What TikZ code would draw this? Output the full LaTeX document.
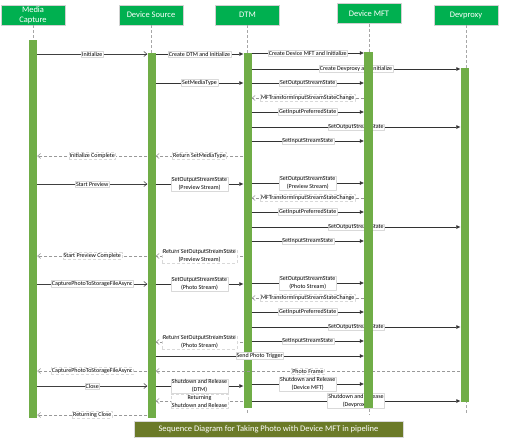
\documentclass[tikz,border=0pt]{standalone}
\usepackage{fontspec}
\setmainfont{Carlito}
\usetikzlibrary{arrows.meta}
\definecolor{hdrgreen}{RGB}{0,176,80}
\definecolor{bargreen}{RGB}{112,173,71}
\definecolor{captionolive}{RGB}{107,122,40}
\pgfdeclarelayer{front}
\pgfsetlayers{main,front}

\begin{document}
\begin{tikzpicture}[x=1pt, y=-1pt, line join=round,
    hdr/.style={fill=hdrgreen, draw=black!18, line width=0.8pt, text=white, minimum width=64pt, minimum height=20pt, inner sep=1pt, align=center, font=\fontsize{8.5}{9.5}\selectfont},
    actbar/.style={fill=bargreen, draw=none, minimum width=8pt, inner sep=0pt},
    life/.style={draw=black!35, dash pattern=on 3pt off 2pt, line width=0.5pt},
    lbl/.style={fill=white, draw=black!15, line width=0.3pt, inner sep=0.8pt, align=center, font=\fontsize{6}{8}\selectfont},
    msgo/.style={draw=black!75, line width=0.6pt, -{Straight Barb[length=3pt,width=5pt]}},
    msgf/.style={draw=black!80, line width=0.6pt, -{Triangle[length=4pt,width=3.5pt]}},
    ret/.style={draw=black!40, line width=0.6pt, dash pattern=on 3pt off 2pt, -{Straight Barb[length=3pt,width=5pt]}}]
  \useasboundingbox (0,0) rectangle (522,445);

  % lifeline heads
  \node[hdr] (mc) at (33,15) {Media\\Capture};
  \node[hdr] (ds) at (151,15) {Device Source};
  \node[hdr] (dtm) at (247.5,15) {DTM};
  \node[hdr] (mft) at (369,13.5) {Device MFT};
  \node[hdr] (dp) at (466,15) {Devproxy};
  \foreach \n in {mc,ds,dtm,mft,dp}
    \draw[life] (\n.south) -- (\n.south |- 0,414);

  % activation bars
  \node[actbar, minimum height=378pt] (mcb) at (33,229) {};
  \node[actbar, minimum height=365pt] (dsb) at (151.5,235.5) {};
  \node[actbar, minimum height=355pt] (dtmb) at (247.5,230.5) {};
  \begin{pgfonlayer}{front}
    \node[actbar, minimum width=9pt, minimum height=356pt] (mftb) at (368.5,230) {};
    \node[actbar, minimum height=334pt] (dpb) at (464.5,235) {};
  \end{pgfonlayer}

  % initialize
  \draw[msgo] (mcb.east |- 0,54) -- node[lbl] {Initialize} (dsb.west |- 0,54);
  \draw[msgf] (dsb.east |- 0,54) -- node[lbl] {Create DTM and Initialize} (dtmb.west |- 0,54);
  \draw[msgf] (dtmb.east |- 0,53) -- node[lbl] {Create Device MFT and Initialize} (mftb.west |- 0,53);
  \draw[msgf] (dtmb.east |- 0,69) -- node[lbl] {Create Devproxy and Initialize} (dpb.west |- 0,69);
  \draw[msgf] (dsb.east |- 0,83) -- node[lbl] {SetMediaType} (dtmb.west |- 0,83);
  \draw[msgf] (dtmb.east |- 0,83) -- node[lbl] {SetOutputStreamState} (mftb.west |- 0,83);

  % same four steps after each stream state change
  \foreach \b in {83,183,283}{
    \draw[ret] (mftb.west |- 0,\b+15) -- node[lbl] {MFTransformInputStreamStateChange} (dtmb.east |- 0,\b+15);
    \draw[msgf] (dtmb.east |- 0,\b+29) -- node[lbl] {GetInputPreferredState} (mftb.west |- 0,\b+29);
    \draw[msgf] (dtmb.east |- 0,\b+44) -- node[lbl] {SetOutputStreamState} (dpb.west |- 0,\b+44);
    \draw[msgf] (dtmb.east |- 0,\b+58) -- node[lbl] {SetInputStreamState} (mftb.west |- 0,\b+58);
  }
  \draw[ret] (dsb.west |- 0,156) -- node[lbl] {Initialize Complete} (mcb.east |- 0,156);
  \draw[ret] (dtmb.west |- 0,156) -- node[lbl] {Return SetMediaType} (dsb.east |- 0,156);

  % preview
  \draw[msgo] (mcb.east |- 0,184) -- node[lbl] {Start Preview} (dsb.west |- 0,184);
  \draw[msgf] (dsb.east |- 0,184) -- node[lbl] {SetOutputStreamState\\(Preview Stream)} (dtmb.west |- 0,184);
  \draw[msgf] (dtmb.east |- 0,183) -- node[lbl] {SetOutputStreamState\\(Preview Stream)} (mftb.west |- 0,183);
  \draw[ret] (dsb.west |- 0,256) -- node[lbl] {Start Preview Complete} (mcb.east |- 0,256);
  \draw[ret] (dtmb.west |- 0,256) -- node[lbl] {Return SetOutputStreamState\\(Preview Stream)} (dsb.east |- 0,256);

  % photo
  \draw[msgo] (mcb.east |- 0,284) -- node[lbl] {CapturePhotoToStorageFileAsync} (dsb.west |- 0,284);
  \draw[msgf] (dsb.east |- 0,284) -- node[lbl] {SetOutputStreamState\\(Photo Stream)} (dtmb.west |- 0,284);
  \draw[msgf] (dtmb.east |- 0,283) -- node[lbl] {SetOutputStreamState\\(Photo Stream)} (mftb.west |- 0,283);
  \draw[ret] (dtmb.west |- 0,342) -- node[lbl] {Return SetOutputStreamState\\(Photo Stream)} (dsb.east |- 0,342);
  \draw[msgf] (dsb.east |- 0,356) -- node[lbl] {Send Photo Trigger} (mftb.west |- 0,356);
  \draw[ret] (dpb.west |- 0,371) -- node[lbl] {Photo Frame} (dsb.east |- 0,371);
  \draw[ret] (dsb.west |- 0,371) -- node[lbl] {CapturePhotoToStorageFileAsync} (mcb.east |- 0,371);

  % close
  \draw[msgo] (mcb.east |- 0,386) -- node[lbl] {Close} (dsb.west |- 0,386);
  \draw[msgf] (dsb.east |- 0,386) -- node[lbl] {Shutdown and Release\\(DTM)} (dtmb.west |- 0,386);
  \draw[msgf] (dtmb.east |- 0,384) -- node[lbl] {Shutdown and Release\\(Device MFT)} (mftb.west |- 0,384);
  \draw[ret] (dtmb.west |- 0,401) -- node[lbl] {Returning\\Shutdown and Release} (dsb.east |- 0,401);
  \draw[msgf] (dtmb.east |- 0,401) -- node[lbl] {Shutdown and Release\\(Devproxy)} (dpb.west |- 0,401);
  \draw[ret] (dsb.west |- 0,415) -- node[lbl] {Returning Close} (mcb.east |- 0,415);

  \node[fill=captionolive, draw=black!15, text=white, minimum width=269pt, minimum height=16pt, font=\fontsize{8.5}{10}\selectfont] (cap) at (268.5,429.5) {Sequence Diagram for Taking Photo with Device MFT in pipeline};
\end{tikzpicture}
\end{document}
